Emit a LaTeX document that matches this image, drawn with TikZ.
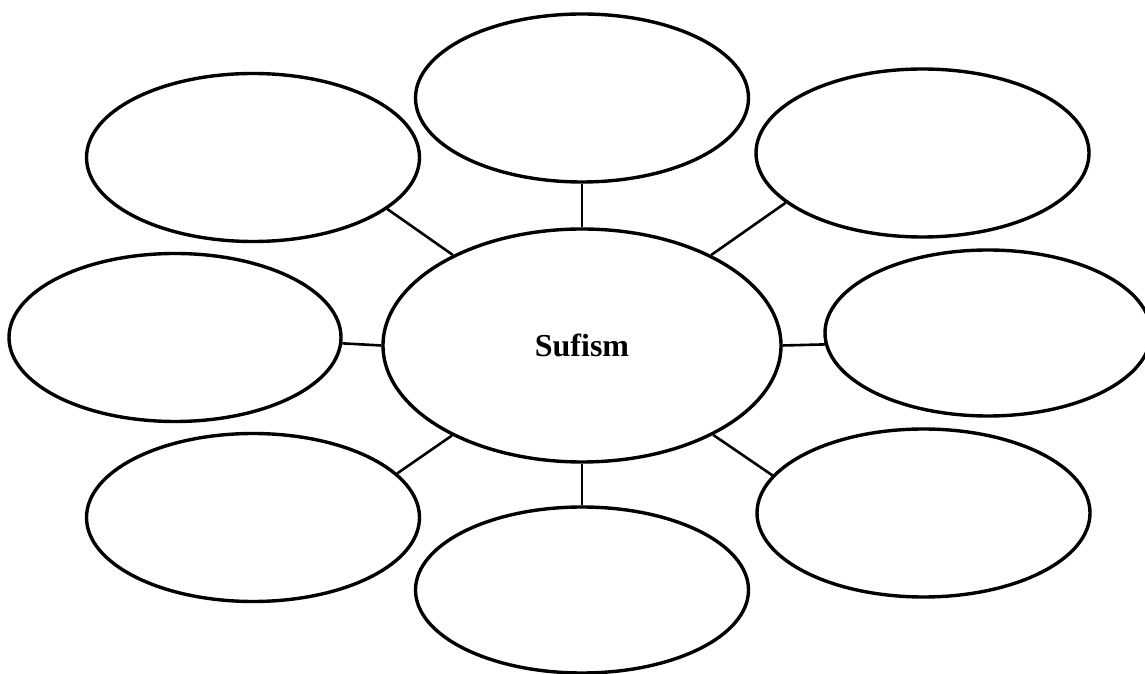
\documentclass[tikz,border=0pt]{standalone}
\usepackage{fontspec}
\setmainfont{Liberation Serif}
\usetikzlibrary{shapes.geometric}
\begin{document}
\begin{tikzpicture}[x=1pt,y=1pt,
  bubble/.style={ellipse,draw=black,line width=3.4pt,inner sep=0pt,
    minimum width=333pt,minimum height=168pt},
  hub/.style={ellipse,draw=black,line width=3.4pt,inner sep=0pt,
    minimum width=398pt,minimum height=233pt,
    font=\fontsize{32}{36}\selectfont\bfseries},
  spoke/.style={draw=black,line width=2.6pt}]
  \useasboundingbox (0,0) rectangle (1145,674);
  \clip (0,0) rectangle (1145,674);
  % central idea
  \node[hub] (c) at (582,328.5) {Sufism};
  % surrounding bubbles
  \node[bubble] (t)  at (582,576) {};
  \node[bubble] (tl) at (253,516.5) {};
  \node[bubble] (tr) at (922.5,521) {};
  \node[bubble, minimum width=332pt] (l) at (175,336.5) {};
  \node[bubble, minimum width=326pt, minimum height=166pt] (r) at (988,341) {};
  \node[bubble] (bl) at (253,156.5) {};
  \node[bubble, minimum height=166pt] (b) at (582,84) {};
  \node[bubble] (br) at (923.5,161) {};
  % spokes from the hub
  \draw[spoke] (c) -- (t);
  \draw[spoke] (c) -- (b);
  \draw[spoke] (c) -- (tl.-21.6);
  \draw[spoke] (c) -- (tr.-160.6);
  \draw[spoke] (c) -- (bl.17);
  \draw[spoke] (c) -- (br.166.5);
  \draw[spoke] (c.180) -- (l.-2.6);
  \draw[spoke] (c.0.7) -- (r.-176.5);
\end{tikzpicture}
\end{document}
